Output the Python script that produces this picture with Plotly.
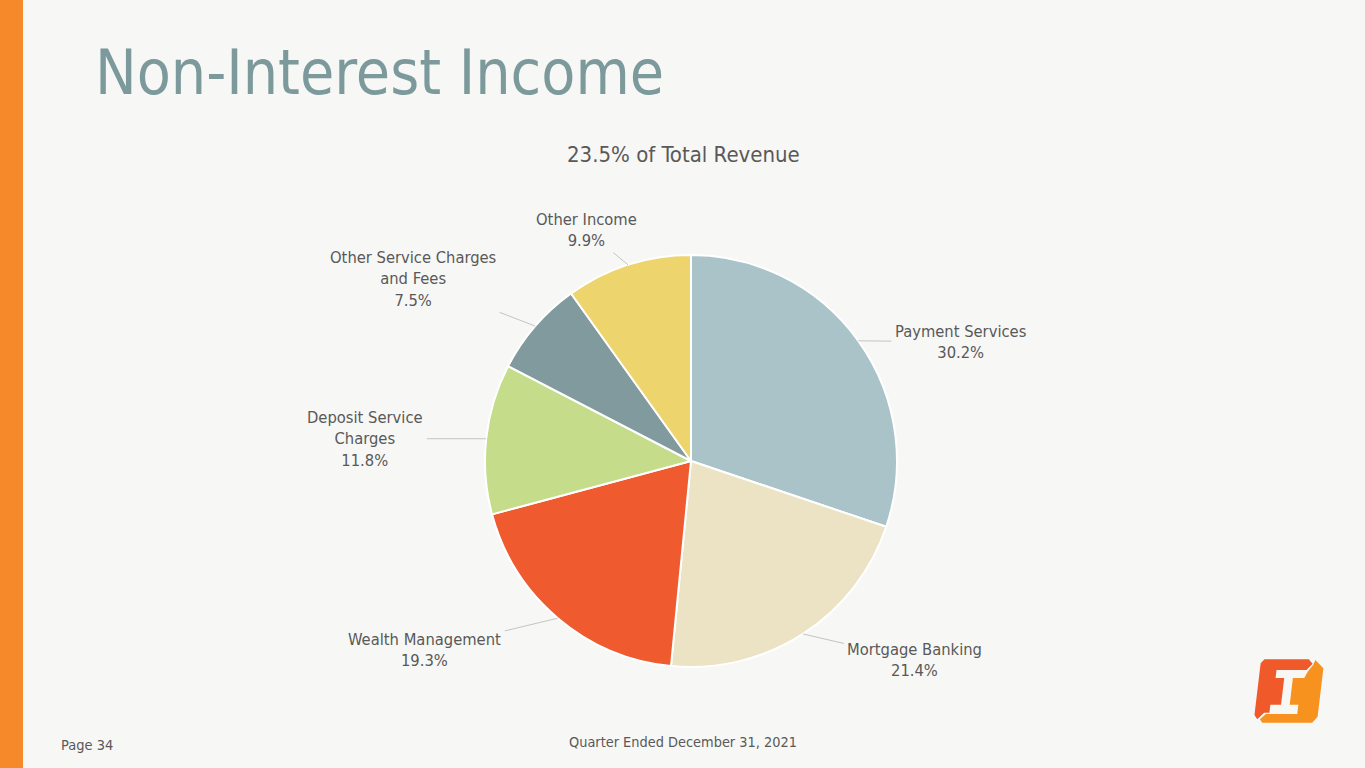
import math
import plotly.graph_objects as go

# ---- data ----
categories = ["Payment Services", "Mortgage Banking", "Wealth Management",
              "Deposit Service Charges", "Other Service Charges and Fees", "Other Income"]
label_text = ["Payment Services", "Mortgage Banking", "Wealth Management",
              "Deposit Service<br>Charges", "Other Service Charges<br>and Fees", "Other Income"]
values = [30.2, 21.4, 19.3, 11.8, 7.5, 9.9]
colors = ["#aac3c9", "#ebe3c4", "#f05a2f", "#c5dc8a", "#819a9d", "#edd46c"]
# label offsets in pixels from the slice edge (layout only)
label_offsets = [(102, 1), (112, 26), (-133, 32), (-121, 0), (-122, -47), (-42, -35)]

W, H = 1365, 768
FONT = "DejaVu Sans Condensed, DejaVu Sans, sans-serif"
TXT = "#595959"

# pie placement (pixels)
cx, cy, R = 691, 461, 206
dom_x = [(cx - R) / W, (cx + R) / W]
dom_y = [1 - (cy + R) / H, 1 - (cy - R) / H]

fig = go.Figure()
fig.add_trace(go.Pie(
    labels=categories, values=values, sort=False, direction="clockwise", rotation=0,
    marker=dict(colors=colors, line=dict(color="white", width=2)),
    textinfo="none", hoverinfo="skip", showlegend=False,
    domain=dict(x=dom_x, y=dom_y),
))

def px2paper(x, y):
    return x / W, 1 - y / H

annotations = []
total = sum(values)
cum = 0.0
for lab, v, (ox, oy) in zip(label_text, values, label_offsets):
    mid = (cum + v / 2) / total * 2 * math.pi
    cum += v
    ex = cx + R * math.sin(mid)
    ey = cy - R * math.cos(mid)
    px, py = px2paper(ex, ey)
    annotations.append(dict(
        x=px, y=py, xref="paper", yref="paper",
        ax=ox, ay=oy, axref="pixel", ayref="pixel",
        text=f"{lab}<br>{v:.1f}%", align="center",
        showarrow=True, arrowhead=0, arrowwidth=1, arrowcolor="#c4c4c4",
        standoff=0, startstandoff=2,
        font=dict(family=FONT, size=16.4, color=TXT),
    ))

# title, subtitle, footer
annotations += [
    dict(x=93 / W, y=1 - 72 / H, xref="paper", yref="paper", xanchor="left", yanchor="middle",
         text="Non-Interest Income", showarrow=False,
         font=dict(family=FONT, size=62, color="#7c9a9b")),
    dict(x=683 / W, y=1 - 154 / H, xref="paper", yref="paper", xanchor="center", yanchor="middle",
         text="23.5% of Total Revenue", showarrow=False,
         font=dict(family=FONT, size=22, color=TXT)),
    dict(x=59 / W, y=1 - 745 / H, xref="paper", yref="paper", xanchor="left", yanchor="middle",
         text="Page 34", showarrow=False,
         font=dict(family=FONT, size=14.5, color=TXT)),
    dict(x=683 / W, y=1 - 742 / H, xref="paper", yref="paper", xanchor="center", yanchor="middle",
         text="Quarter Ended December 31, 2021", showarrow=False,
         font=dict(family=FONT, size=14.4, color=TXT)),
]

def path_from(points, ox=1240, oy=650, s=3.0, shear=0.12, ymid=123):
    pts = [px2paper(ox + (x + shear * (ymid - y)) / s, oy + y / s) for x, y in points]
    return "M " + " L ".join(f"{x:.5f},{y:.5f}" for x, y in pts) + " Z"

red_piece = [(62, 28), (195, 28), (208, 41), (192, 60), (102, 60), (102, 84), (128, 84),
             (128, 164), (96, 164), (96, 188), (80, 188), (62, 208), (52, 195), (52, 40)]
orange_piece = [(215, 30), (242, 55), (242, 200), (228, 218), (78, 218), (70, 208),
                (86, 192), (180, 192), (180, 164), (154, 164), (154, 84), (188, 84),
                (197, 64), (210, 45)]

shapes = [
    dict(type="rect", xref="paper", yref="paper", x0=0, x1=23 / W, y0=0, y1=1,
         fillcolor="#f6892a", line=dict(width=0), layer="below"),
    dict(type="path", xref="paper", yref="paper", path=path_from(red_piece),
         fillcolor="#f05a2b", line=dict(width=0)),
    dict(type="path", xref="paper", yref="paper", path=path_from(orange_piece),
         fillcolor="#f7921e", line=dict(width=0)),
]

fig.update_layout(
    width=W, height=H, margin=dict(l=0, r=0, t=0, b=0),
    paper_bgcolor="#f7f7f5", plot_bgcolor="#f7f7f5",
    annotations=annotations, shapes=shapes, showlegend=False,
)

fig.write_html("out.html", config={"displayModeBar": False},
               post_script="document.body.style.margin='0';document.body.style.overflow='hidden';")
